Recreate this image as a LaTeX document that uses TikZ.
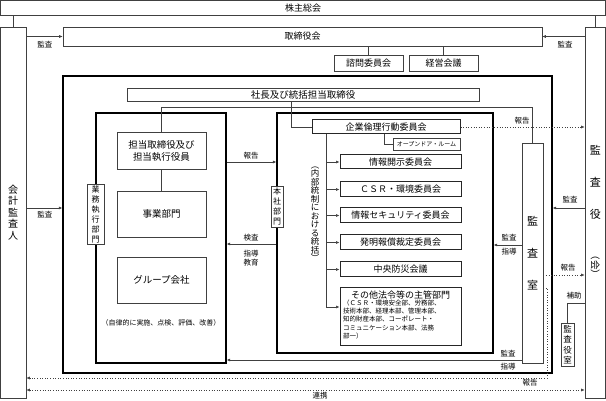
\documentclass[tikz,border=0pt]{standalone}
\usepackage{fontspec}
\setmainfont{Noto Sans CJK JP}
\usetikzlibrary{arrows.meta}
\newcommand\jfs[1]{\fontsize{#1}{#1}\selectfont}
\begin{document}
\begin{tikzpicture}[x=1pt,y=-1pt,
  thin/.style={draw=black!75, line width=0.6pt},
  box/.style={thin, inner sep=0pt, font=\jfs{9}},
  tbox/.style={draw=black, line width=1.3pt, inner sep=0pt},
  cbox/.style={draw=black!85, line width=1pt, inner sep=0pt, font=\jfs{9}},
  vt/.style={box, fill=white, align=center},
  lbl/.style={font=\jfs{7.5}, inner sep=0pt},
  conn/.style={draw=black!75, line width=0.6pt},
  arr/.style={conn, -{Latex[length=3.5pt,width=3pt]}},
  darr/.style={arr, dotted},
  bdarr/.style={conn, dotted, {Latex[length=3.5pt,width=3pt]}-{Latex[length=3.5pt,width=3pt]}}]
\useasboundingbox (0,0) rectangle (606,401);
\coordinate (y107) at (0,107);
\coordinate (y208) at (0,208);
\coordinate (y244) at (0,244);
\coordinate (y245) at (0,245);
\coordinate (y275) at (0,275);
\coordinate (y288) at (0,288);
\coordinate (y303) at (0,303);
\coordinate (y360) at (0,360);
\coordinate (y378) at (0,378);
\coordinate (y390) at (0,390);
\coordinate (x547) at (547,0);
% boxes
\node[box, minimum width=605pt, minimum height=14.5pt] (kabu) at (303,7.75) {株主総会};
\node[box, align=center, font=\fontsize{10}{11.5}\selectfont, minimum width=25.5pt, minimum height=371pt] (kaikei) at (13.25,212.5) {会\\計\\監\\査\\人};
\node[box, align=center, font=\fontsize{11}{32}\selectfont, minimum width=20.5pt, minimum height=371pt] (kansayaku) at (595.25,212.5) {監\\査\\役\\\rotatebox{-90}{\fontsize{9.5}{9.5}\selectfont（会）}};
\node[box, minimum width=479pt, minimum height=19pt] (tori) at (302.5,36.5) {取締役会};
\node[box, minimum width=69pt, minimum height=16pt] (shimon) at (368.5,63) {諮問委員会};
\node[box, minimum width=69pt, minimum height=16pt] (keiei) at (443.5,63) {経営会議};
\node[tbox, minimum width=489pt, minimum height=297pt] (outer) at (307.5,224.5) {};
\node[box, font=\jfs{9.5}, minimum width=352pt, minimum height=13pt] (shacho) at (303,94.5) {社長及び統括担当取締役};
\node[tbox, minimum width=130pt, minimum height=250pt] (left) at (161,238) {};
\node[vt, font=\fontsize{8}{10}\selectfont, minimum width=17pt, minimum height=60pt] (gyomu) at (95.5,214) {業\\務\\執\\行\\部\\門};
\node[box, align=center, font=\fontsize{9.5}{12}\selectfont, minimum width=89pt, minimum height=37pt] (tanto) at (161.5,150.5) {担当取締役及び\\担当執行役員};
\node[box, font=\jfs{9.5}, minimum width=89pt, minimum height=46pt] (jigyo) at (161.5,214) {事業部門};
\node[box, font=\jfs{9.5}, minimum width=89pt, minimum height=46pt] (group) at (161.5,280) {グループ会社};
\node[lbl, font=\jfs{7}] (jiritsu) at (161,323) {（自律的に実施、点検、評価、改善）};
\node[tbox, minimum width=216pt, minimum height=240pt] (right) at (385,233) {};
\node[vt, font=\fontsize{8}{10}\selectfont, minimum width=12pt, minimum height=41pt] (honsha) at (277,206.5) {本\\社\\部\\門};
\node[cbox, minimum width=148pt, minimum height=14pt] (rinri) at (386,127) {企業倫理行動委員会};
\node[box, font=\jfs{6}, minimum width=67pt, minimum height=12pt] (open) at (426.5,144) {オープンドア・ルーム};
\node[cbox, minimum width=121pt, minimum height=14pt] (c1) at (400.5,162) {情報開示委員会};
\node[cbox, minimum width=121pt, minimum height=15pt] (c2) at (400.5,189.5) {ＣＳＲ・環境委員会};
\node[cbox, minimum width=121pt, minimum height=15pt] (c3) at (400.5,215.5) {情報セキュリティ委員会};
\node[cbox, minimum width=121pt, minimum height=15pt] (c4) at (400.5,242.5) {発明報償裁定委員会};
\node[cbox, minimum width=121pt, minimum height=15pt] (c5) at (400.5,269.5) {中央防災会議};
\node[cbox, minimum width=121pt, minimum height=57pt] (c6) at (400.5,316.5) {};
\node[anchor=north, font=\jfs{9}, inner sep=0pt] (c6t) at (400.5,291) {その他法令等の主管部門};
\node[anchor=north west, align=left, font=\fontsize{6.5}{8.3}\selectfont, inner sep=0pt] (c6d) at (343,299.5) {（ＣＳＲ・環境安全部、労務部、\\技術本部、経理本部、管理本部、\\知的財産本部、コーポレート・\\コミュニケーション本部、法務\\部一）};
\node[lbl, align=center, font=\fontsize{8.5}{8.5}\selectfont] (naibu) at (315,214) {︵\\内\\部\\統\\制\\に\\お\\け\\る\\統\\括\\︶};
\node[box, align=center, font=\fontsize{11}{32}\selectfont, minimum width=21pt, minimum height=220pt] (shitsu) at (532.5,253) {監\\査\\室};
\node[box, align=center, font=\fontsize{8.5}{10.5}\selectfont, minimum width=13pt, minimum height=43pt] (yakushitsu) at (567.5,344.5) {監\\査\\役\\室};
% connectors
\draw[conn] (kabu.south -| kaikei.north) -- (kaikei.north);
\draw[conn] (kabu.south -| kansayaku.north) -- (kansayaku.north);
\draw[arr] (kaikei.east |- tori.west) -- (tori.west);
\draw[arr] (kansayaku.west |- tori.east) -- (tori.east);
\draw[conn] (tori.south -| shimon.north) -- (shimon.north);
\draw[conn] (tori.south -| keiei.north) -- (keiei.north);
\draw[arr] (kaikei.east |- y208) -- (outer.west |- y208);
\draw[arr] (kansayaku.west |- y208) -- (outer.east |- y208);
\draw[conn] (tanto.north) -- (tanto.north |- y107) -- (shitsu.north |- y107) -- (shitsu.north);
\draw[conn] ([xshift=-12pt]shacho.south) |- (rinri.west);
\draw[conn] (tanto.south) -- (jigyo.north);
\draw[arr] (left.east |- c1.west) -- (right.west |- c1.west);
\draw[arr] (right.west |- y244) -- (left.east |- y244);
\draw[arr] (shitsu.west |- y245) -- (right.east |- y245);
\draw[arr] (shitsu.west |- y360) -- (left.east |- y360);
\draw[darr] (rinri.east) -- (kansayaku.west |- rinri.east);
\draw[darr] (shitsu.east |- y275) -- (kansayaku.west |- y275);
\draw[conn] (kansayaku.west |- y303) -| (yakushitsu.north);
\draw[darr] (shitsu.east |- y288) -| (x547 |- y378) -- (kaikei.east |- y378);
\draw[bdarr] (kaikei.east |- y390) -- (kansayaku.west |- y390);
\coordinate (vx) at ([xshift=15pt]rinri.south west);
\draw[arr] (vx) |- ([yshift=9.5pt]c6.west);
\foreach \c in {c1,c2,c3,c4,c5} \draw[arr] (vx |- \c.west) -- (\c.west);
\draw[conn] ([xshift=-2pt]rinri.south) |- (open.west);
% labels
\node[lbl] (l1) at (45,45) {監査};
\node[lbl] (l2) at (565,45) {監査};
\node[lbl] (l3) at (45,215) {監査};
\node[lbl] (l4) at (570,200) {監査};
\node[lbl] (l5) at (251,156) {報告};
\node[lbl] (l6) at (251,238) {検査};
\node[lbl] (l7) at (251,254) {指導};
\node[lbl] (l8) at (251,263) {教育};
\node[lbl] (l9) at (522,121) {報告};
\node[lbl] (l10) at (509,238) {監査};
\node[lbl] (l11) at (509,252) {指導};
\node[lbl] (l12) at (568,268) {報告};
\node[lbl] (l13) at (574,296) {補助};
\node[lbl] (l14) at (508,354) {監査};
\node[lbl] (l15) at (508,367) {指導};
\node[lbl] (l16) at (530,383) {報告};
\node[lbl] (l17) at (320,396) {連携};
\end{tikzpicture}
\end{document}
